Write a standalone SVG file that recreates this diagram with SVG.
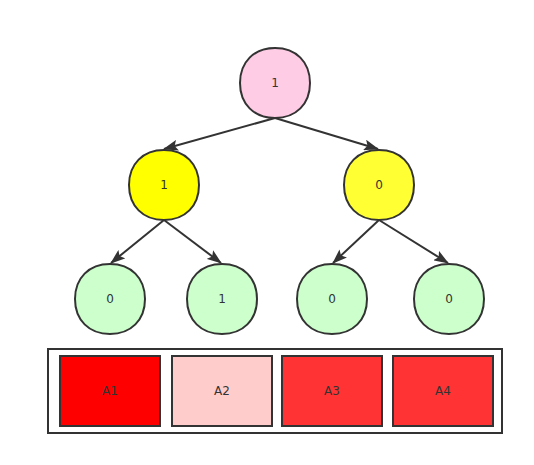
<svg xmlns="http://www.w3.org/2000/svg" width="534" height="465" viewBox="0 0 534 465">
<style>
.n{stroke:#333;stroke-width:2}
.t{font-family:"DejaVu Sans",sans-serif;font-size:12px;fill:#333;text-anchor:middle;dominant-baseline:central}
.e{stroke:#333;stroke-width:2;fill:none;marker-end:url(#ah)}
.b{stroke:#333;stroke-width:2}
</style>
<defs>
<marker id="ah" viewBox="0 0 15 11" refX="14" refY="5.5" markerWidth="15" markerHeight="11" markerUnits="userSpaceOnUse" orient="auto">
<path d="M0,0 L15,5.5 L0,11 L3,5.5 Z" fill="#333"/>
</marker>
<path id="sh" d="M0,-35 C21,-35 35,-21 35,0 C35,21 21,35 0,35 C-21,35 -35,21 -35,0 C-35,-21 -21,-35 0,-35 Z"/>
</defs>
<rect id="bg" width="534" height="465" fill="#fff"/>
<g id="connectors">
<line class="e" x1="275" y1="118" x2="164" y2="149"/>
<line class="e" x1="275" y1="118" x2="378" y2="149"/>
<line class="e" x1="164" y1="220" x2="111" y2="263"/>
<line class="e" x1="164" y1="220" x2="221" y2="263"/>
<line class="e" x1="379" y1="220" x2="333" y2="263"/>
<line class="e" x1="379" y1="220" x2="448" y2="263"/>
</g>
<g id="n1"><use href="#sh" class="n" x="275" y="83" fill="#ffcce6"/><text class="t" x="275" y="83">1</text></g>
<g id="n2"><use href="#sh" class="n" x="164" y="185" fill="#ffff00"/><text class="t" x="164" y="185">1</text></g>
<g id="n3"><use href="#sh" class="n" x="379" y="185" fill="#ffff33"/><text class="t" x="379" y="185">0</text></g>
<g id="n4"><use href="#sh" class="n" x="110" y="299" fill="#ccffcc"/><text class="t" x="110" y="299">0</text></g>
<g id="n5"><use href="#sh" class="n" x="222" y="299" fill="#ccffcc"/><text class="t" x="222" y="299">1</text></g>
<g id="n6"><use href="#sh" class="n" x="332" y="299" fill="#ccffcc"/><text class="t" x="332" y="299">0</text></g>
<g id="n7"><use href="#sh" class="n" x="449" y="299" fill="#ccffcc"/><text class="t" x="449" y="299">0</text></g>
<g id="array">
<rect class="b" x="48" y="349" width="454" height="84" fill="#fff"/>
<g id="a1"><rect class="b" x="60" y="356" width="100" height="70" fill="#ff0000"/><text class="t" x="110" y="391">A1</text></g>
<g id="a2"><rect class="b" x="172" y="356" width="100" height="70" fill="#ffcccc"/><text class="t" x="222" y="391">A2</text></g>
<g id="a3"><rect class="b" x="282" y="356" width="100" height="70" fill="#ff3333"/><text class="t" x="332" y="391">A3</text></g>
<g id="a4"><rect class="b" x="393" y="356" width="100" height="70" fill="#ff3333"/><text class="t" x="443" y="391">A4</text></g>
</g>
</svg>
